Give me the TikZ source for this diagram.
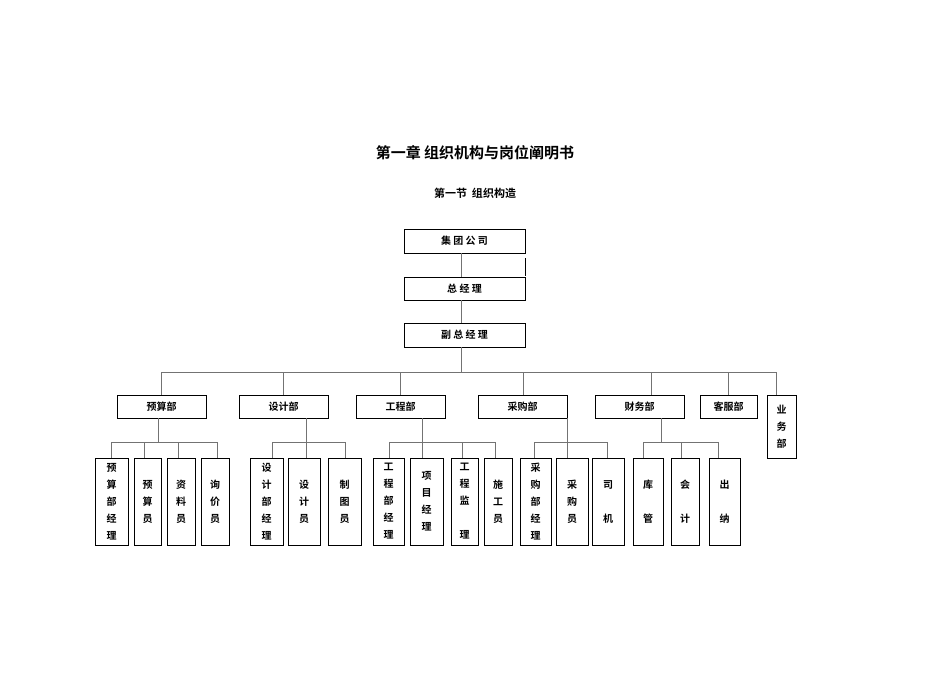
\documentclass[tikz,border=0pt]{standalone}
\usepackage{fontspec}
\setmainfont{Noto Sans CJK SC Bold}
\begin{document}
\begin{tikzpicture}[x=1pt,y=-1pt,
  box/.style={draw=black,line width=0.8pt,inner sep=0pt,font=\fontsize{10}{10}\selectfont},
  vbox/.style={draw=black,line width=0.8pt,inner sep=0pt,align=center,font=\fontsize{10}{17}\selectfont},
  conn/.style={draw=black!55,line width=0.8pt}]
\useasboundingbox (0,0) rectangle (950,672);
\node[font=\fontsize{15}{15}\selectfont] (title) at (475,153) {第一章 组织机构与岗位阐明书};
\node[font=\fontsize{11}{11}\selectfont] (sub) at (475,193) {第一节\ \ 组织构造};
% top
\node[box,minimum width=121,minimum height=24] (jt) at (464.5,241) {集\ 团\ 公\ 司};
\node[box,minimum width=121,minimum height=23] (zj) at (464.5,288.5) {总\ 经\ 理};
\node[box,minimum width=121,minimum height=24] (fz) at (464.5,335) {副\ 总\ 经\ 理};
\coordinate (s1) at (525,258); \coordinate (s2) at (525,276);
\draw[line width=1pt] (s1) -- (s2);
\draw[conn] (jt.south -| 461,0) -- (zj.north -| 461,0);
\draw[conn] (zj.south -| 461,0) -- (fz.north -| 461,0);
% departments
\def\dy{406.5}
\node[box,minimum width=89,minimum height=23] (ys) at (161.5,\dy) {预算部};
\node[box,minimum width=89,minimum height=23] (sj) at (283.5,\dy) {设计部};
\node[box,minimum width=89,minimum height=23] (gc) at (400.5,\dy) {工程部};
\node[box,minimum width=89,minimum height=23] (cg) at (522.5,\dy) {采购部};
\node[box,minimum width=89,minimum height=23] (cw) at (639.5,\dy) {财务部};
\node[box,minimum width=57,minimum height=23] (kf) at (728.5,\dy) {客服部};
\node[vbox,minimum width=29,minimum height=63] (yw) at (781.5,426.5) {业\\务\\部};
\coordinate (bl) at (161,372); \coordinate (br) at (776,372);
\draw[conn] (fz.south -| 461,0) -- (461,372);
\draw[conn] (bl) -- (br);
\draw[conn] (bl) -- (ys.north -| bl);
\foreach \n/\x in {sj/283,gc/400,cg/523,cw/651,kf/728,yw/776}
  \draw[conn] (\x,372) -- (\n.north -| \x,0);
% children
\def\cy{501.5}
\newcommand\kid[4]{\node[vbox,minimum width=#3-#2,minimum height=87] (#1) at ({(#2+#3)/2},\cy) {#4};}
\kid{y1}{95}{128}{预\\算\\部\\经\\理}
\kid{y2}{134}{161}{预\\算\\员}
\kid{y3}{167}{195}{资\\料\\员}
\kid{y4}{201}{229}{询\\价\\员}
\kid{s1k}{250}{283}{设\\计\\部\\经\\理}
\kid{s2k}{288}{320}{设\\计\\员}
\kid{s3k}{328}{361}{制\\图\\员}
\kid{g1}{373}{404}{工\\程\\部\\经\\理}
\kid{g2}{410}{443}{项\\目\\经\\理}
\kid{g3}{451}{478}{工\\程\\监\\\\理}
\kid{g4}{484}{512}{施\\工\\员}
\kid{c1}{520}{551}{采\\购\\部\\经\\理}
\kid{c2}{556}{588}{采\\购\\员}
\kid{c3}{592}{624}{司\\\\机}
\kid{f1}{633}{663}{库\\\\管}
\kid{f2}{671}{699}{会\\\\计}
\kid{f3}{709}{740}{出\\\\纳}
\def\by{442}
\newcommand\tree[4]{% dept, drop x, left x, right x
  \draw[conn] (#1.south -| #2,0) -- (#2,\by);
  \draw[conn] (#3,\by) -- (#4,\by);}
\tree{ys}{158}{111}{217}
\tree{sj}{306}{272}{345}
\tree{gc}{422}{389}{495}
\tree{cg}{567}{534}{607}
\tree{cw}{661}{643}{718}
\foreach \n/\x in {y1/111,y2/144,y3/178,y4/217,s1k/272,s2k/306,s3k/345,g1/389,g2/422,g3/462,g4/495,c1/534,c2/567,c3/607,f1/643,f2/681,f3/718}
  \draw[conn] (\x,\by) -- (\n.north -| \x,0);
\end{tikzpicture}
\end{document}
